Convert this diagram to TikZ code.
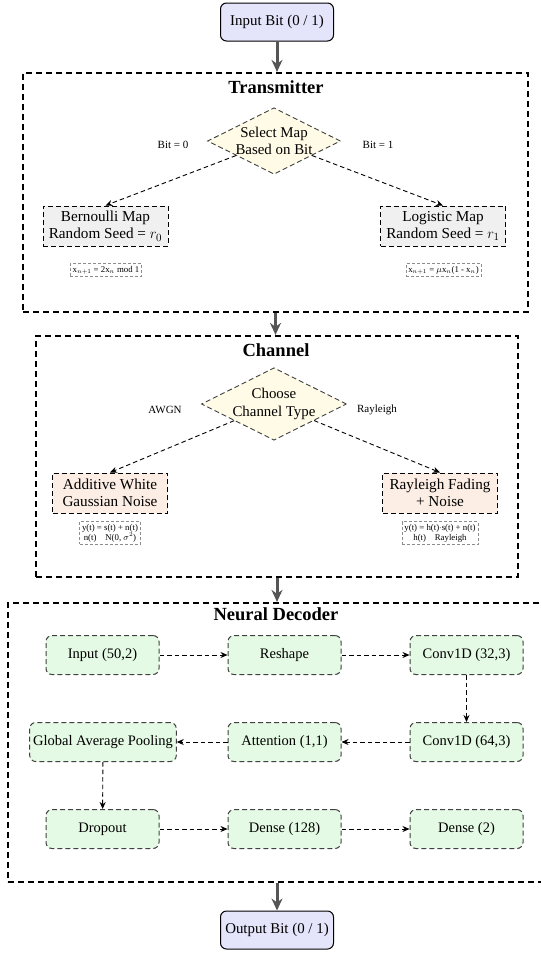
\documentclass[tikz,border=0pt]{standalone}
\usepackage{fontspec}
\setmainfont{Liberation Serif}
\usetikzlibrary{shapes.geometric,arrows.meta}
\definecolor{iofill}{HTML}{E4E4FA}
\definecolor{diafill}{HTML}{FFFBE6}
\definecolor{mapfill}{HTML}{F0F0F0}
\definecolor{chfill}{HTML}{FCEEE4}
\definecolor{layerfill}{HTML}{E4FAE4}
\definecolor{flowgray}{HTML}{555555}
\tikzset{
 outerbox/.style={draw=black, line width=2.2pt, dash pattern=on 6pt off 4pt, inner sep=0pt},
 boxtitle/.style={font=\fontsize{18.5}{22}\selectfont\bfseries, inner sep=0pt},
 iobox/.style={draw=black, line width=1pt, rounded corners=6pt, fill=iofill, minimum width=113pt, minimum height=38pt, font=\fontsize{14.9}{17.5}\selectfont},
 decision/.style={diamond, aspect=2, draw=black!75, line width=0.9pt, dash pattern=on 5pt off 3pt, fill=diafill, inner sep=0pt, align=center, font=\fontsize{14.9}{17.5}\selectfont},
 mapbox/.style={rectangle, draw=black, line width=1pt, dash pattern=on 5pt off 3pt, fill=mapfill, minimum width=125pt, minimum height=40pt, align=center, font=\fontsize{15.2}{17.5}\selectfont},
 chbox/.style={mapbox, fill=chfill, minimum width=115pt},
 formula/.style={draw=black!45, dash pattern=on 3pt off 2pt, line width=0.6pt, font=\fontsize{8.8}{9.8}\selectfont, inner sep=2.5pt, align=center},
 layer/.style={rectangle, rounded corners=6pt, draw=black!75, dash pattern=on 5pt off 3pt, line width=1pt, fill=layerfill, minimum width=113pt, minimum height=39pt, font=\fontsize{14.5}{17}\selectfont},
 flow/.style={draw=flowgray, line width=3pt, -{Stealth[length=12pt,width=11pt]}},
 darrow/.style={draw=black, line width=0.9pt, dash pattern=on 4.5pt off 3pt, -{Stealth[length=7pt,width=6pt]}},
 lbl/.style={font=\fontsize{11}{12.5}\selectfont, inner sep=0pt}
}
\begin{document}
\begin{tikzpicture}[x=1pt,y=-1pt]
\useasboundingbox (0,0) rectangle (541,954);

% input
\node[iobox] (in) at (277,22) {Input Bit (0 / 1)};

% transmitter
\node[outerbox, minimum width=505pt, minimum height=239pt] (tx) at (275.5,192.5) {};
\node[boxtitle] (txt) at (276,87) {Transmitter};
\node[decision] (sel) at (274,141) {Select Map\\Based on Bit};
\node[mapbox] (bern) at (105.5,226) {Bernoulli Map\\Random Seed = $r_0$};
\node[mapbox] (logi) at (443,226) {Logistic Map\\Random Seed = $r_1$};
\node[formula] (fb) at (106,270) {x$_{n+1}$ = 2x$_n$ mod 1};
\node[formula] (fl) at (443.5,270) {x$_{n+1}$ = $\mu$x$_n$(1 - x$_n$)};
\node[lbl] (lb0) at (173,145) {Bit = 0};
\node[lbl] (lb1) at (378,145) {Bit = 1};
\draw[darrow] (sel) -- (bern.north);
\draw[darrow] (sel) -- (logi.north);

% channel
\node[outerbox, minimum width=482pt, minimum height=241pt] (ch) at (277,456.5) {};
\node[boxtitle] (cht) at (276,350) {Channel};
\node[decision] (cho) at (274,404) {Choose\\Channel Type};
\node[chbox] (awgn) at (110,493) {Additive White\\Gaussian Noise};
\node[chbox] (rayl) at (440,493) {Rayleigh Fading\\+ Noise};
\node[formula] (fa) at (110,533) {y(t) = s(t) + n(t)\\n(t)\ \ \ \ N(0, $\sigma^2$)};
\node[formula] (fr) at (440,533) {y(t) = h(t)$\cdot$s(t) + n(t)\\h(t)\ \ \ \ Rayleigh};
\node[lbl] (lawgn) at (165,410) {AWGN};
\node[lbl] (lray) at (377,410) {Rayleigh};
\draw[darrow] (cho) -- (awgn.north);
\draw[darrow] (cho) -- (rayl.north);

% decoder
\node[outerbox, minimum width=536pt, minimum height=279pt] (dec) at (276,742.5) {};
\node[boxtitle] (dect) at (276,614) {Neural Decoder};
\node[layer] (l1) at (102.5,655) {Input (50,2)};
\node[layer] (l2) at (284.5,655) {Reshape};
\node[layer] (l3) at (466.5,655) {Conv1D (32,3)};
\node[layer] (l4) at (466.5,742) {Conv1D (64,3)};
\node[layer] (l5) at (284.5,742) {Attention (1,1)};
\node[layer] (l6) at (103,742) {Global Average Pooling};
\node[layer] (l7) at (102.5,829) {Dropout};
\node[layer] (l8) at (284.5,829) {Dense (128)};
\node[layer] (l9) at (466.5,829) {Dense (2)};
\draw[darrow] (l1) -- (l2);
\draw[darrow] (l2) -- (l3);
\draw[darrow] (l3) -- (l4);
\draw[darrow] (l4) -- (l5);
\draw[darrow] (l5) -- (l6);
\draw[darrow] (l6) -- (l7);
\draw[darrow] (l7) -- (l8);
\draw[darrow] (l8) -- (l9);

% output
\node[iobox] (out) at (277,930) {Output Bit (0 / 1)};

% main flow
\draw[flow] (in) -- (in |- tx.north);
\draw[flow] (tx.south) -- (tx.south |- ch.north);
\draw[flow] (ch.south) -- (ch.south |- dec.north);
\draw[flow] (out |- dec.south) -- (out);
\end{tikzpicture}
\end{document}
